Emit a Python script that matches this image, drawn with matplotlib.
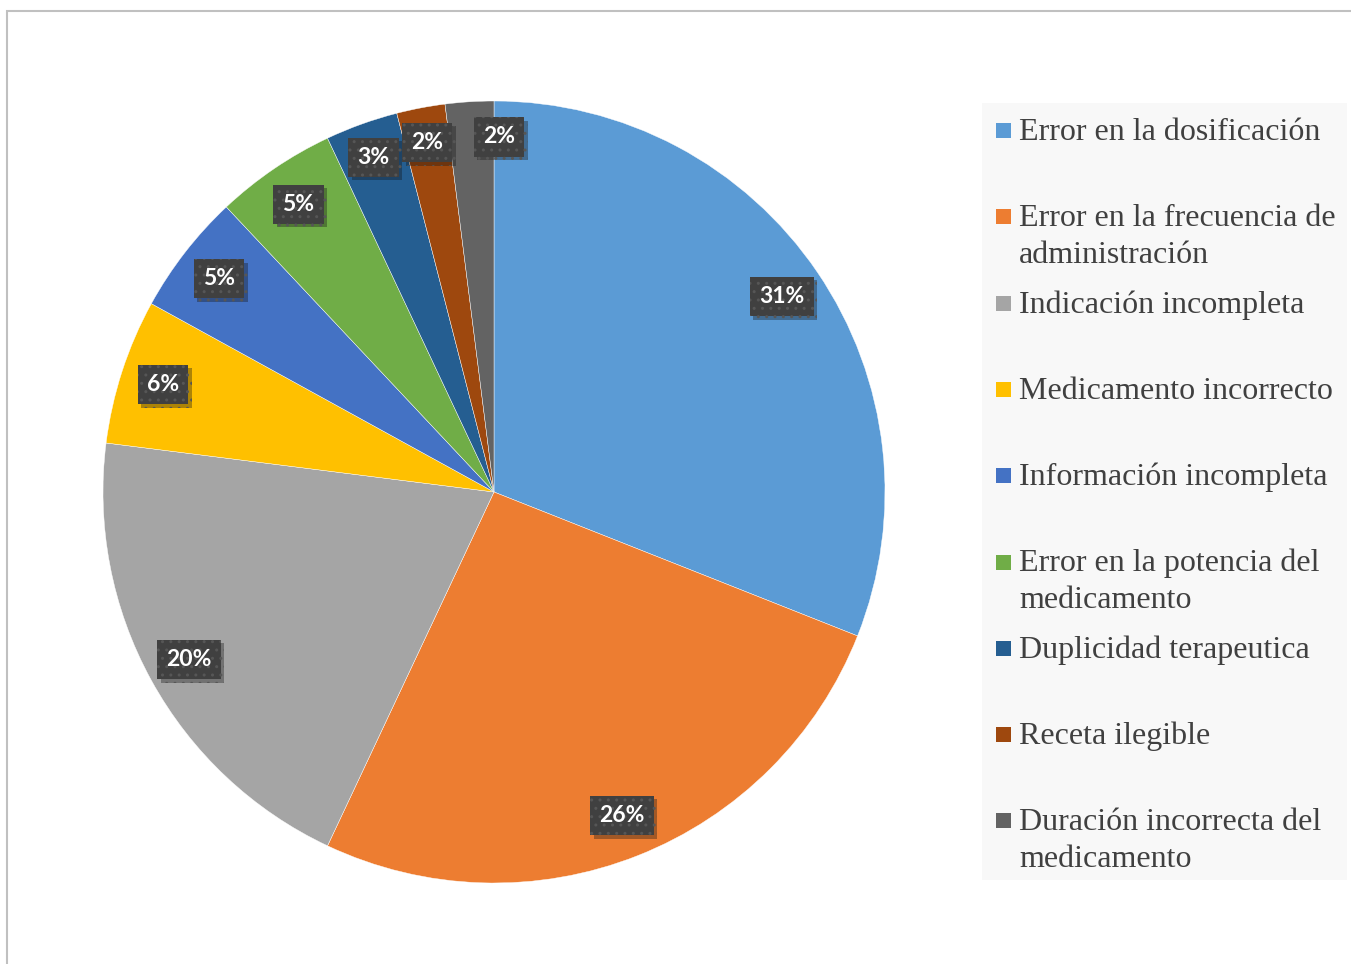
import matplotlib.pyplot as plt
import matplotlib.patheffects as pe
from matplotlib.patches import Rectangle
import numpy as np

categorias = ['Error en la dosificación',
              'Error en la frecuencia de\nadministración',
              'Indicación incompleta',
              'Medicamento incorrecto',
              'Información incompleta',
              'Error en la potencia del\nmedicamento',
              'Duplicidad terapeutica',
              'Receta ilegible',
              'Duración incorrecta del\nmedicamento']
porcentajes = [31, 26, 20, 6, 5, 5, 3, 2, 2]
colores = ['#5B9BD5', '#ED7D31', '#A5A5A5', '#FFC000', '#4472C4',
           '#70AD47', '#255E91', '#9E480E', '#636363']

W, H = 1351, 964
fig = plt.figure(figsize=(W / 100, H / 100), dpi=100)

# chart border (only top/left visible in the crop)
fig.patches.append(Rectangle((7 / W, -0.1), 1.2, (H - 11) / H + 0.1, transform=fig.transFigure,
                             fill=False, edgecolor='#c0c0c0', linewidth=1.5))

cx, cy, R = 494, 492, 391
ax = fig.add_axes([(cx - R) / W, (H - cy - R) / H, 2 * R / W, 2 * R / H])
wedges, texts, autotexts = ax.pie(porcentajes, colors=colores, startangle=90, counterclock=False,
                                  autopct='%d%%', pctdistance=0.89, radius=1,
                                  wedgeprops=dict(linewidth=0.3, edgecolor='white'),
                                  textprops=dict(color='white', fontsize=16.5, fontweight='bold',
                                                 family='Lato'))
ax.set_xlim(-1, 1)
ax.set_ylim(-1, 1)
ax.set_aspect('equal')

for i, t in enumerate(autotexts):
    x, y = t.get_position()
    if porcentajes[i] <= 3:
        ang = np.arctan2(y, x)
        x, y = 0.91 * np.cos(ang), 0.91 * np.sin(ang)
    if i == len(autotexts) - 1:
        x += 0.07
    t.set_position((x, y))
    t.set_bbox(dict(boxstyle='square,pad=0.4', facecolor='#404040', edgecolor='#565656',
                    linewidth=0, hatch='..'))
    t.get_bbox_patch().set_path_effects([pe.withSimplePatchShadow(offset=(2.5, -2.5), alpha=0.35)])

# legend drawn by hand, Excel-style
fig.patches.append(Rectangle((982 / W, (H - 880) / H), (1347 - 982) / W, (880 - 103) / H,
                             transform=fig.transFigure, facecolor='#f8f8f8', edgecolor='none'))
for k, (nombre, c) in enumerate(zip(categorias, colores)):
    base = 140 + 86.3 * k
    fig.patches.append(Rectangle((996 / W, (H - base + 2) / H), 15 / W, 15 / H,
                                 transform=fig.transFigure, facecolor=c, edgecolor='none'))
    for j, linea in enumerate(nombre.split('\n')):
        fig.text(1019 / W, (H - base - 37 * j) / H, linea, fontsize=23, family='Liberation Serif',
                 color='#404040', va='baseline', ha='left')

fig.savefig('out.png', dpi=100)
